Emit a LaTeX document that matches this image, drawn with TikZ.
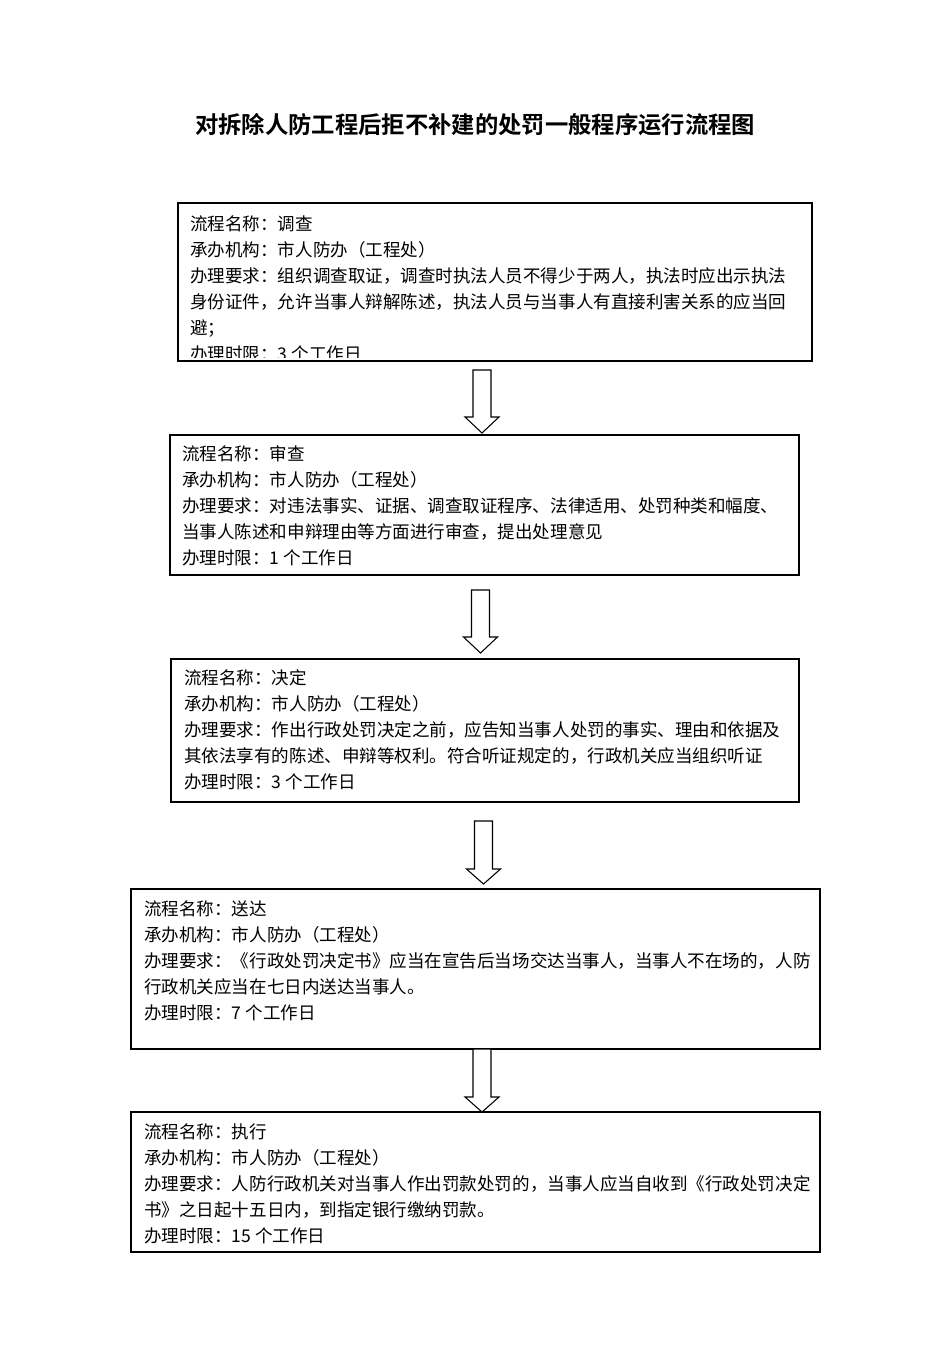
\documentclass[tikz,border=0pt]{standalone}
\usepackage{fontspec}
\setmainfont{Noto Sans CJK SC}[BoldFont={Noto Sans CJK SC Bold}]
\usetikzlibrary{fit}

\tikzset{
	stagebox/.style={draw, line width=1pt, inner sep=0pt},
	% base anchor sits on the last line
	stagetext/.style={anchor=base west, inner sep=0pt, align=left,
		font=\fontsize{13.15}{19.5}\selectfont},
	flowarrow/.style={draw, line width=0.8pt, fill=white}
}

\begin{document}
\begin{tikzpicture}[x=0.75pt, y=-0.75pt]
		\useasboundingbox (0, 0) rectangle (952, 1363);
		% title
		\node[font=\fontsize{17.5}{20}\selectfont\bfseries] (title) at (475, 125)
			{对拆除人防工程后拒不补建的处罚一般程序运行流程图};
		% the five stages
		\node[stagebox, fit={(178, 203) (812, 361)}] (diaocha) {};
		\node[stagebox, fit={(170, 435) (799, 575)}] (shencha) {};
		\node[stagebox, fit={(171, 659) (799, 802)}] (jueding) {};
		\node[stagebox, fit={(131, 889) (820, 1049)}] (songda) {};
		\node[stagebox, fit={(131, 1112) (820, 1252)}] (zhixing) {};
		% first box cuts off its last line
		\begin{scope}
			\clip (179, 204) rectangle (811, 357);
			\node[stagetext] (diaochatext) at (190, 360) {流程名称：调查\\
				承办机构：市人防办（工程处）\\
				办理要求：组织调查取证，调查时执法人员不得少于两人，执法时应出示执法\\
				身份证件，允许当事人辩解陈述，执法人员与当事人有直接利害关系的应当回\\
				避；\\
				办理时限：3 个工作日};
		\end{scope}
		\node[stagetext] (shenchatext) at (182, 564) {流程名称：审查\\
			承办机构：市人防办（工程处）\\
			办理要求：对违法事实、证据、调查取证程序、法律适用、处罚种类和幅度、\\
			当事人陈述和申辩理由等方面进行审查，提出处理意见\\
			办理时限：1 个工作日};
		\node[stagetext] (juedingtext) at (184, 788) {流程名称：决定\\
			承办机构：市人防办（工程处）\\
			办理要求：作出行政处罚决定之前，应告知当事人处罚的事实、理由和依据及\\
			其依法享有的陈述、申辩等权利。符合听证规定的，行政机关应当组织听证\\
			办理时限：3 个工作日};
		\node[stagetext] (songdatext) at (144, 1019) {流程名称：送达\\
			承办机构：市人防办（工程处）\\
			办理要求：《行政处罚决定书》应当在宣告后当场交达当事人，当事人不在场的，人防\\
			行政机关应当在七日内送达当事人。\\
			办理时限：7 个工作日};
		\node[stagetext] (zhixingtext) at (144, 1242) {流程名称：执行\\
			承办机构：市人防办（工程处）\\
			办理要求：人防行政机关对当事人作出罚款处罚的，当事人应当自收到《行政处罚决定\\
			书》之日起十五日内，到指定银行缴纳罚款。\\
			办理时限：15 个工作日};
		% hollow arrows: centre x / top / neck / tip
		\foreach \cx/\top/\neck/\tip in {482/370/417/433, 480.5/590/637/653,
				483.5/821/869/884, 482/1049/1097/1112}
			\draw[flowarrow] (\cx-9, \top) -- (\cx+9, \top) -- (\cx+9, \neck)
				-- (\cx+17, \neck) -- (\cx, \tip) -- (\cx-17, \neck)
				-- (\cx-9, \neck) -- cycle;
	\end{tikzpicture}
\end{document}
